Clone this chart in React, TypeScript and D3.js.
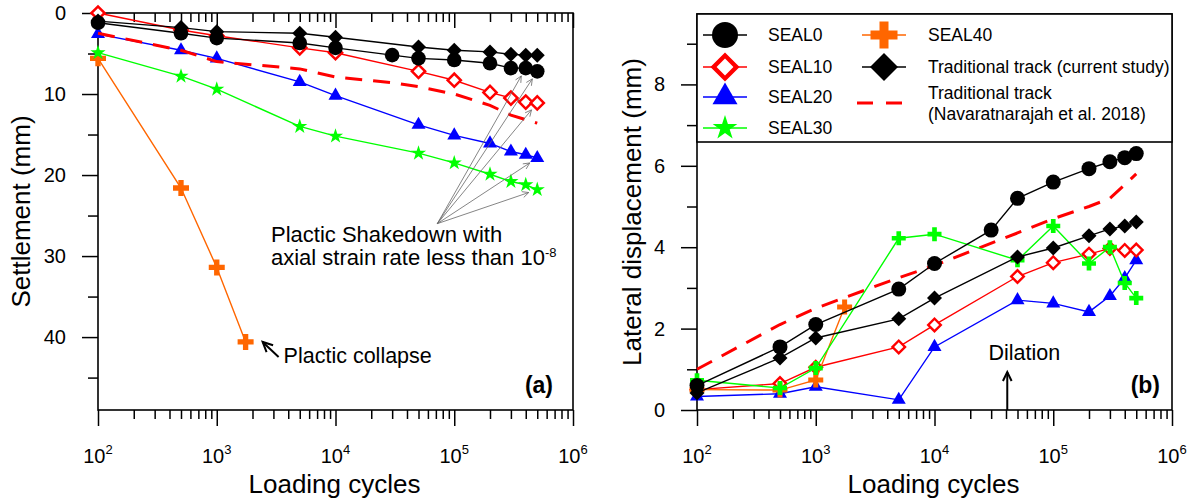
import React, { useEffect, useRef } from 'react';
import * as d3 from 'd3';

// loading cycles
const cycles = [100, 500, 1000, 5000, 10000, 50000, 100000, 200000, 300000, 400000, 500000];
const cyclesSeal0 = [100, 500, 1000, 5000, 10000, 30000, 50000, 100000, 200000, 300000, 400000, 500000];
const cyclesSeal40 = [100, 500, 1000, 1750];
const cyclesNavaA = [100, 500, 1000, 5000, 10000, 30000, 50000, 100000, 200000, 300000, 500000];
const cyclesNavaB = [100, 500, 1000, 5000, 10000, 50000, 100000, 200000, 300000, 500000];

// (a) settlement (mm)
const setSeal0 = [1.2, 2.5, 3.1, 3.7, 4.3, 5.2, 5.6, 5.8, 6.2, 6.8, 6.8, 7.2];
const setSeal10 = [0.0, 2.1, 2.8, 4.3, 4.9, 7.2, 8.3, 9.8, 10.5, 11.0, 11.1];
const setSeal20 = [2.6, 4.6, 5.6, 8.5, 10.2, 13.8, 15.1, 16.1, 17.1, 17.5, 17.9];
const setSeal30 = [4.9, 7.8, 9.4, 14.0, 15.2, 17.3, 18.5, 19.9, 20.8, 21.2, 21.8];
const setSeal40 = [5.6, 21.6, 31.4, 40.6];
const setTrad = [1.0, 1.8, 2.3, 2.5, 3.0, 4.2, 4.6, 4.8, 5.1, 5.2, 5.2];
const setNava = [2.5, 4.6, 6.0, 6.9, 7.9, 8.6, 9.1, 10.0, 11.4, 12.6, 13.6];

// (b) lateral displacement (mm)
const latSeal0 = [0.6, 1.55, 2.1, 2.97, 3.6, 4.42, 5.2, 5.6, 5.93, 6.1, 6.2, 6.3];
const latSeal10 = [0.5, 0.65, 1.05, 1.55, 2.09, 3.28, 3.62, 3.83, 3.97, 3.92, 3.93];
const latSeal20 = [0.33, 0.4, 0.57, 0.25, 1.55, 2.7, 2.62, 2.41, 2.8, 3.24, 3.68];
const latSeal30 = [0.73, 0.54, 1.03, 4.22, 4.32, 3.68, 4.52, 3.6, 4.0, 3.12, 2.75];
const latSeal40 = [0.5, 0.49, 0.74, 2.53];
const latTrad = [0.42, 1.28, 1.77, 2.24, 2.75, 3.76, 3.98, 4.28, 4.45, 4.52, 4.62];
const latNava = [1.0, 2.1, 2.5, 3.25, 3.55, 4.35, 4.7, 5.0, 5.2, 5.8];

const xMajor = [1e2, 1e3, 1e4, 1e5, 1e6];
const yMajorA = [0, 10, 20, 30, 40];
const yMinorA = [5, 15, 25, 35, 45];
const yMajorB = [0, 2, 4, 6, 8];
const yMinorB = [1, 3, 5, 7, 9];

const FONT = "'Liberation Sans', Arial, Helvetica, sans-serif";
const RED = '#ff0000';
const BLUE = '#0000ff';
const GREEN = '#00ff00';
const ORANGE = '#ff6600';
const BLACK = '#000000';

type G = d3.Selection<SVGGElement, unknown, null, undefined>;

function marker(g: G, kind: string, cx: number, cy: number, s: number, color: string) {
  if (kind === 'circle') {
    g.append('circle').attr('cx', cx).attr('cy', cy).attr('r', s).attr('fill', color);
    return;
  }
  let type: d3.SymbolType = d3.symbolSquare;
  let size = 0;
  let rot = '';
  if (kind === 'diamond' || kind === 'openDiamond') { type = d3.symbolSquare; size = 2 * s * s; rot = ' rotate(45)'; }
  if (kind === 'triangle') { type = d3.symbolTriangle; size = (s * s * Math.sqrt(3)) / 4; }
  if (kind === 'star') { type = d3.symbolStar; size = (s * s) / 0.8908; }
  if (kind === 'plus') { type = d3.symbolCross; size = 5 * (s / 3) ** 2; }
  const open = kind === 'openDiamond';
  g.append('path')
    .attr('d', d3.symbol().type(type).size(size)())
    .attr('transform', `translate(${cx},${cy})${rot}`)
    .attr('fill', open ? '#fff' : color)
    .attr('stroke', open ? color : 'none')
    .attr('stroke-width', open ? s * 0.38 : 0);
}

function series(g: G, x: any, y: any, xs: number[], ys: number[], color: string, kind: string, s: number, dashed = false) {
  const line = d3.line<number>().x((_, i) => x(xs[i])).y((d) => y(d));
  g.append('path')
    .attr('d', line(ys))
    .attr('fill', 'none')
    .attr('stroke', color)
    .attr('stroke-width', dashed ? 3 : 1.4)
    .attr('stroke-dasharray', dashed ? '17,11' : null);
  if (kind !== 'none') ys.forEach((v, i) => marker(g, kind, x(xs[i]), y(v), s, color));
}

function arrow(g: G, x1: number, y1: number, x2: number, y2: number, head: number, color: string, w: number) {
  g.append('line').attr('x1', x1).attr('y1', y1).attr('x2', x2).attr('y2', y2)
    .attr('stroke', color).attr('stroke-width', w);
  const a = Math.atan2(y2 - y1, x2 - x1);
  const sp = Math.PI / 7;
  const pts: [number, number][] = [
    [x2 - head * Math.cos(a - sp), y2 - head * Math.sin(a - sp)],
    [x2, y2],
    [x2 - head * Math.cos(a + sp), y2 - head * Math.sin(a + sp)],
  ];
  g.append('path').attr('d', d3.line()(pts)).attr('fill', 'none').attr('stroke', color).attr('stroke-width', w);
}

function frame(g: G, x: any, y: any, box: any, yMajor: number[], yMinor: number[], topTicks: boolean) {
  const xMinor: number[] = [];
  for (let e = 2; e < 6; e++) for (let k = 2; k < 10; k++) xMinor.push(k * 10 ** e);

  const tickStyle = (sel: any) => {
    sel.select('.domain').remove();
    sel.selectAll('text').remove();
    sel.selectAll('line').attr('stroke', BLACK).attr('stroke-width', 1.5);
  };
  g.append('g').attr('transform', `translate(0,${box.bottom})`)
    .call(d3.axisBottom(x).tickValues(xMajor).tickSize(16).tickSizeOuter(0)).call(tickStyle);
  g.append('g').attr('transform', `translate(0,${box.bottom})`)
    .call(d3.axisBottom(x).tickValues(xMinor).tickSize(9).tickSizeOuter(0)).call(tickStyle);
  if (topTicks) {
    g.append('g').attr('transform', `translate(0,${box.top})`)
      .call(d3.axisBottom(x).tickValues(xMajor).tickSize(15).tickSizeOuter(0)).call(tickStyle);
    g.append('g').attr('transform', `translate(0,${box.top})`)
      .call(d3.axisBottom(x).tickValues(xMinor).tickSize(9).tickSizeOuter(0)).call(tickStyle);
  }
  g.append('g').attr('transform', `translate(${box.left},0)`)
    .call(d3.axisLeft(y).tickValues(yMajor).tickSize(16).tickSizeOuter(0)).call(tickStyle);
  g.append('g').attr('transform', `translate(${box.left},0)`)
    .call(d3.axisLeft(y).tickValues(yMinor).tickSize(10).tickSizeOuter(0)).call(tickStyle);

  g.append('rect')
    .attr('x', box.left).attr('y', box.top)
    .attr('width', box.right - box.left).attr('height', box.bottom - box.top)
    .attr('fill', 'none').attr('stroke', BLACK).attr('stroke-width', 1.6);

  // x tick labels 10^n
  xMajor.forEach((v) => {
    const t = g.append('text')
      .attr('x', x(v)).attr('y', box.bottom + 53)
      .attr('text-anchor', 'middle').attr('font-size', 20);
    t.append('tspan').text('10');
    t.append('tspan').attr('dy', -9).attr('font-size', 13).text(String(Math.round(Math.log10(v))));
  });
  yMajor.forEach((v) => {
    g.append('text')
      .attr('x', box.left - 32).attr('y', y(v)).attr('dy', '0.35em')
      .attr('text-anchor', 'end').attr('font-size', 20).text(String(v));
  });
  g.append('text')
    .attr('x', (box.left + box.right) / 2 - 1).attr('y', box.bottom + 83)
    .attr('text-anchor', 'middle').attr('font-size', 26).text('Loading cycles');
}

const App = () => {
  const svgRef = useRef<SVGSVGElement>(null);

  useEffect(() => {
    const svg = d3.select(svgRef.current);
    svg.selectAll('*').remove();
    const root = svg.append('g').attr('font-family', FONT) as unknown as G;

    // ---------- panel (a) ----------
    const boxA = { left: 98, right: 573, top: 13, bottom: 410 };
    const xA = d3.scaleLog().domain([1e2, 1e6]).range([boxA.left, boxA.right]);
    const yA = d3.scaleLinear().domain([0, 49]).range([boxA.top, boxA.bottom]);
    const gA = root.append('g');
    frame(gA, xA, yA, boxA, yMajorA, yMinorA, true);
    gA.append('text')
      .attr('transform', `translate(30,${(boxA.top + boxA.bottom) / 2}) rotate(-90)`)
      .attr('text-anchor', 'middle').attr('font-size', 26).text('Settlement (mm)');

    series(gA, xA, yA, cyclesSeal40, setSeal40, ORANGE, 'plus', 16);
    series(gA, xA, yA, cycles, setSeal30, GREEN, 'star', 8);
    series(gA, xA, yA, cycles, setSeal20, BLUE, 'triangle', 14);
    series(gA, xA, yA, cyclesNavaA, setNava, RED, 'none', 0, true);
    series(gA, xA, yA, cycles, setSeal10, RED, 'openDiamond', 6.6);
    series(gA, xA, yA, cyclesSeal0, setSeal0, BLACK, 'circle', 7.3);
    series(gA, xA, yA, cycles, setTrad, BLACK, 'diamond', 7.5);

    // shakedown annotation
    const ox = xA(72000), oy = yA(26);
    const targets: [number, number][] = [
      [xA(400000), yA(setSeal0[10])],
      [xA(500000), yA(setSeal0[11])],
      [xA(500000), yA(setSeal10[10])],
      [xA(500000), yA(setSeal20[10])],
      [xA(500000), yA(setSeal30[10])],
    ];
    targets.forEach(([tx, ty]) => {
      const d = Math.hypot(tx - ox, ty - oy);
      const ex = tx - ((tx - ox) / d) * 9;
      const ey = ty - ((ty - oy) / d) * 9;
      arrow(gA, ox, oy, ex, ey, 7, '#666', 0.8);
    });
    gA.append('text').attr('x', 271).attr('y', 242).attr('font-size', 22).text('Plactic Shakedown with');
    const t2 = gA.append('text').attr('x', 271).attr('y', 265).attr('font-size', 22);
    t2.append('tspan').text('axial strain rate less than 10');
    t2.append('tspan').attr('dy', -8).attr('font-size', 13).text('-8');

    // collapse annotation
    const cx = xA(1750) + 17, cy = yA(40.6);
    arrow(gA, cx + 16, cy + 15, cx, cy, 11, BLACK, 2);
    gA.append('text').attr('x', cx + 21).attr('y', cy + 21).attr('font-size', 21.5).text('Plactic collapse');

    gA.append('text').attr('x', boxA.right - 20).attr('y', boxA.bottom - 17)
      .attr('text-anchor', 'end').attr('font-size', 23).attr('font-weight', 'bold').text('(a)');

    // ---------- panel (b) ----------
    const boxB = { left: 697, right: 1172, top: 14, bottom: 410 };
    const xB = d3.scaleLog().domain([1e2, 1e6]).range([boxB.left, boxB.right]);
    const yB = d3.scaleLinear().domain([0, 9.73]).range([boxB.bottom, boxB.top]);
    const gB = root.append('g');
    frame(gB, xB, yB, boxB, yMajorB, yMinorB, false);
    gB.append('text')
      .attr('transform', `translate(641,${(boxB.top + boxB.bottom) / 2}) rotate(-90)`)
      .attr('text-anchor', 'middle').attr('font-size', 26).text('Lateral displacement (mm)');

    series(gB, xB, yB, cyclesNavaB, latNava, RED, 'none', 0, true);
    series(gB, xB, yB, cycles, latSeal20, BLUE, 'triangle', 14);
    series(gB, xB, yB, cycles, latSeal10, RED, 'openDiamond', 6.3);
    series(gB, xB, yB, cyclesSeal40, latSeal40, ORANGE, 'plus', 15);
    series(gB, xB, yB, cycles, latSeal30, GREEN, 'plus', 14);
    series(gB, xB, yB, cyclesSeal0, latSeal0, BLACK, 'circle', 7.5);
    series(gB, xB, yB, cycles, latTrad, BLACK, 'diamond', 7.5);

    // dilation annotation
    const dx = xB(41000);
    arrow(gB, dx, boxB.bottom, dx, boxB.bottom - 38, 10, BLACK, 2);
    gB.append('text').attr('x', dx + 17).attr('y', boxB.bottom - 50)
      .attr('text-anchor', 'middle').attr('font-size', 21.5).text('Dilation');
    gB.append('text').attr('x', boxB.right - 12).attr('y', boxB.bottom - 17)
      .attr('text-anchor', 'end').attr('font-size', 23).attr('font-weight', 'bold').text('(b)');

    // legend
    const legY = 142;
    gB.append('rect').attr('x', boxB.left).attr('y', boxB.top)
      .attr('width', boxB.right - boxB.left).attr('height', legY - boxB.top)
      .attr('fill', '#fff').attr('stroke', BLACK).attr('stroke-width', 1.6);
    const legend = [
      { label: ['SEAL0'], color: BLACK, kind: 'circle', s: 13, col: 0, row: 35 },
      { label: ['SEAL10'], color: RED, kind: 'openDiamond', s: 11.5, col: 0, row: 67 },
      { label: ['SEAL20'], color: BLUE, kind: 'triangle', s: 25, col: 0, row: 97 },
      { label: ['SEAL30'], color: GREEN, kind: 'star', s: 13, col: 0, row: 128 },
      { label: ['SEAL40'], color: ORANGE, kind: 'plus', s: 27, col: 1, row: 35 },
      { label: ['Traditional track (current study)'], color: BLACK, kind: 'diamond', s: 14, col: 1, row: 67 },
      { label: ['Traditional track', '(Navaratnarajah et al. 2018)'], color: RED, kind: 'dash', s: 0, col: 1, row: 103 },
    ];
    legend.forEach((d) => {
      const mx = d.col === 0 ? 725 : 884;
      if (d.kind === 'dash') {
        gB.append('line').attr('x1', mx - 27).attr('x2', mx + 20).attr('y1', d.row).attr('y2', d.row)
          .attr('stroke', RED).attr('stroke-width', 3).attr('stroke-dasharray', '16,13');
      } else {
        gB.append('line').attr('x1', mx - 22).attr('x2', mx + 22).attr('y1', d.row).attr('y2', d.row)
          .attr('stroke', d.color).attr('stroke-width', 1.4);
        marker(gB, d.kind, mx, d.row, d.s, d.color);
      }
      const lx = d.col === 0 ? 768 : 928;
      if (d.label.length === 1) {
        gB.append('text').attr('x', lx).attr('y', d.row).attr('dy', '0.35em').attr('font-size', 17.5).text(d.label[0]);
      } else {
        gB.append('text').attr('x', lx).attr('y', d.row - 10).attr('dy', '0.35em').attr('font-size', 17.5).text(d.label[0]);
        gB.append('text').attr('x', lx).attr('y', d.row + 11).attr('dy', '0.35em').attr('font-size', 17.5).text(d.label[1]);
      }
    });
  }, []);

  return (
    <svg
      ref={svgRef}
      width={1192}
      height={501}
      style={{ position: 'absolute', left: 0, top: 0, background: '#fff' }}
    />
  );
};

export default App;
